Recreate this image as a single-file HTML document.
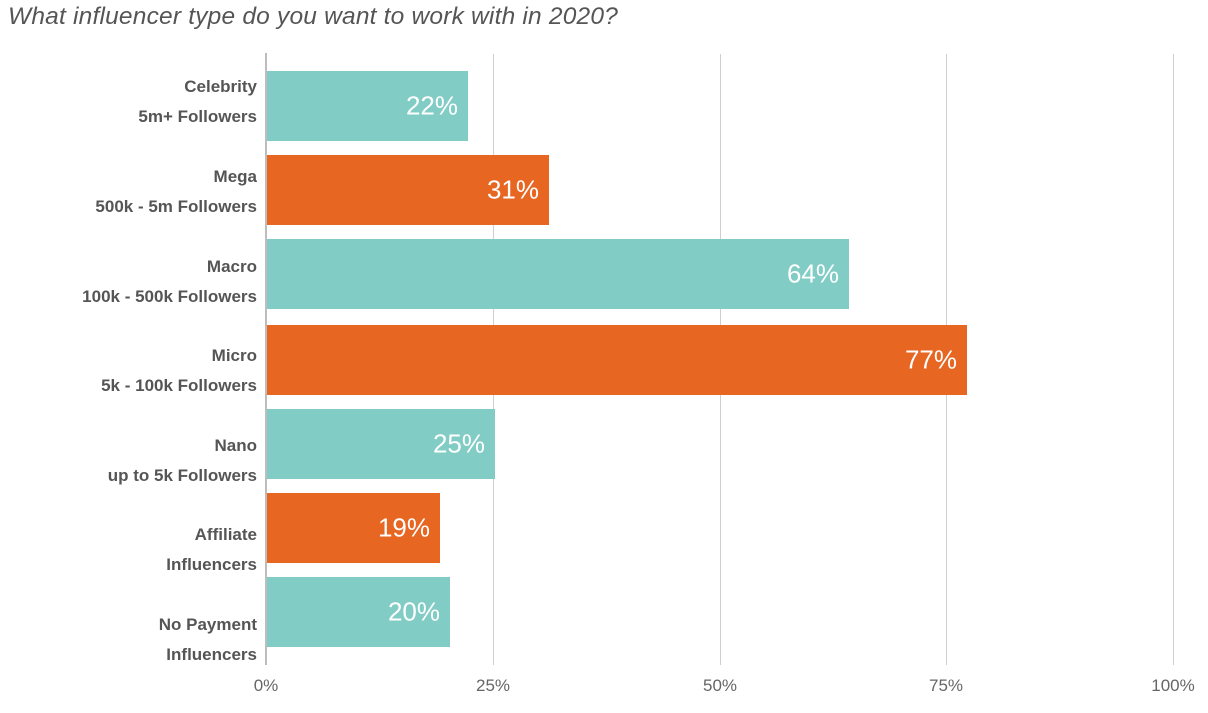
<!DOCTYPE html>
<html><head><meta charset="utf-8"><style>
body{margin:0;width:1208px;height:713px;background:#fff;overflow:hidden;font-family:"Liberation Sans",sans-serif;position:relative}
.t{position:absolute;left:8px;top:3px;font-size:24.5px;font-style:italic;color:#555;white-space:nowrap;letter-spacing:0.2px}
.g{position:absolute;top:54px;height:611px;width:1px;background:#cfcfcf}
.ax{position:absolute;left:265px;top:53px;height:612px;width:2px;background:#bdbdbd}
.b{position:absolute;left:267px;height:70px}
.b span{position:absolute;right:10px;top:50%;transform:translateY(-50%);color:#fff;font-size:26px}
.c{background:#82ccc6}.o{background:#e66622}
.l{position:absolute;right:951px;text-align:right;color:#555;font-weight:bold;font-size:17px;line-height:30px;white-space:nowrap}
.x{position:absolute;top:676px;font-size:17px;color:#666;transform:translateX(-50%)}
</style></head><body>
<div class="t">What influencer type do you want to work with in 2020?</div>
<div class="g" style="left:493px"></div><div class="g" style="left:720px"></div><div class="g" style="left:946px"></div><div class="g" style="left:1173px"></div>
<div class="ax"></div>
<div class="b c" style="top:71px;width:201px"><span>22%</span></div>
<div class="b o" style="top:155px;width:282px"><span>31%</span></div>
<div class="b c" style="top:239px;width:582px"><span>64%</span></div>
<div class="b o" style="top:325px;width:700px"><span>77%</span></div>
<div class="b c" style="top:409px;width:228px"><span>25%</span></div>
<div class="b o" style="top:493px;width:173px"><span>19%</span></div>
<div class="b c" style="top:577px;width:183px"><span>20%</span></div>
<div class="l" style="top:72px">Celebrity<br>5m+ Followers</div>
<div class="l" style="top:162px">Mega<br>500k - 5m Followers</div>
<div class="l" style="top:252px">Macro<br>100k - 500k Followers</div>
<div class="l" style="top:341px">Micro<br>5k - 100k Followers</div>
<div class="l" style="top:431px">Nano<br>up to 5k Followers</div>
<div class="l" style="top:520px">Affiliate<br>Influencers</div>
<div class="l" style="top:610px">No Payment<br>Influencers</div>
<div class="x" style="left:266px">0%</div><div class="x" style="left:493px">25%</div><div class="x" style="left:720px">50%</div><div class="x" style="left:946px">75%</div><div class="x" style="left:1173px">100%</div>
</body></html>
